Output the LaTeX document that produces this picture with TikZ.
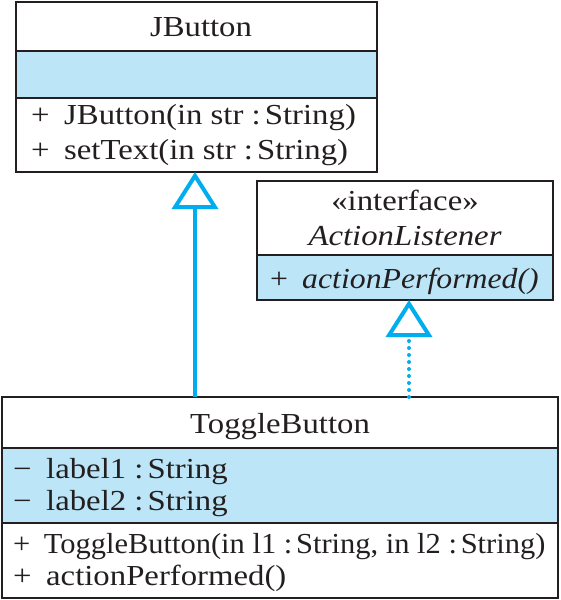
\documentclass[tikz,border=0pt]{standalone}
\usepackage{fontspec}
\setmainfont{Liberation Serif}[FakeStretch=1.13]
\usetikzlibrary{arrows.meta}
\definecolor{umlblue}{RGB}{189,229,248}
\definecolor{umlcyan}{RGB}{0,174,239}
\definecolor{umlline}{RGB}{35,31,32}
\newcommand{\cln}{\ :\hspace{0.14em}}
\begin{document}
\begin{tikzpicture}[x=1pt,y=-1pt,
  box/.style={draw=umlline, line width=1.5pt, inner sep=0pt, outer sep=0pt, anchor=north west},
  sep/.style={draw=umlline, line width=1.5pt},
  band/.style={fill=umlblue},
  txt/.style={inner sep=0pt, anchor=base west, font=\fontsize{29}{34}\selectfont, text=umlline},
  ctxt/.style={inner sep=0pt, anchor=base, font=\fontsize{29}{34}\selectfont, text=umlline},
  inherit/.style={draw=umlcyan, line width=4pt, -{Triangle[open, length=37pt, width=46pt]}},
  realize/.style={inherit, dash pattern=on 0pt off 7pt, line cap=round}]
\useasboundingbox (0,0) rectangle (560,600);
\fill[white] (0,0) rectangle (560,600);
% colour bands
\fill[band] (16,51) rectangle (377,98);
\fill[band] (257,255) rectangle (553,300);
\fill[band] (2,448) rectangle (558,523);
% class boxes
\node[box, minimum width=361pt, minimum height=170pt] (jbutton) at (16,2) {};
\node[box, minimum width=296pt, minimum height=119pt] (iface) at (257,181) {};
\node[box, minimum width=556pt, minimum height=201pt] (toggle) at (2,397) {};
% compartment separators
\draw[sep] (16,51) -- (377,51);
\draw[sep] (16,98) -- (377,98);
\draw[sep] (257,255) -- (553,255);
\draw[sep] (2,448) -- (558,448);
\draw[sep] (2,523) -- (558,523);
% texts
\node[ctxt] (jbname) at (201,36) {JButton};
\node[txt] (jbm1) at (31,124) {+\enspace JButton(in str\cln String)};
\node[txt] (jbm2) at (31,159) {+\enspace setText(in str\cln String)};
\node[ctxt] (ifst) at (405,210) {«interface»};
\node[ctxt, font=\fontsize{29}{34}\selectfont\itshape] (ifname) at (405,245) {ActionListener};
\node[txt] (ifm) at (270,288) {\scalebox{0.97}[1]{+\enspace \textit{actionPerformed()}}};
\node[ctxt] (tbname) at (280,433) {ToggleButton};
\node[txt] (tba1) at (13,478) {−\enspace label1\cln String};
\node[txt] (tba2) at (13,510) {−\enspace label2\cln String};
\node[txt] (tbm1) at (13,553) {\scalebox{0.93}[1]{+\enspace ToggleButton(in l1\cln String, in l2\cln String)}};
\node[txt] (tbm2) at (13,585) {+\enspace actionPerformed()};
% connectors
\coordinate (jx) at (195,0);
\coordinate (ix) at (409,0);
\draw[inherit] (toggle.north -| jx) -- (jbutton.south -| jx);
\draw[realize] (toggle.north -| ix) -- (iface.south -| ix);
\end{tikzpicture}
\end{document}
